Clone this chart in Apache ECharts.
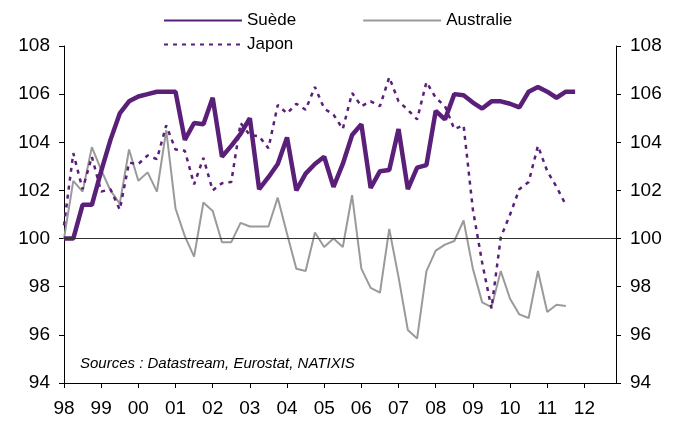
<!DOCTYPE html>
<html>
<head>
<meta charset="utf-8">
<script src="https://cdn.jsdelivr.net/npm/echarts@6/dist/echarts.min.js"></script>
<style>
html,body{margin:0;padding:0;background:#fff;}
#chart{width:682px;height:424px;}
</style>
</head>
<body>
<div id="chart"></div>
<script>
// trimestriel, 1er point = 1998 T1
var debut = 1998;
var suede = [100.0, 100.0, 101.4, 101.4, 102.8, 104.1, 105.2, 105.7, 105.9, 106.0,
	106.1, 106.1, 106.1, 104.1, 104.8, 104.75, 105.85, 103.4, 103.85, 104.35,
	105.0, 102.05, 102.55, 103.1, 104.2, 102.0, 102.7, 103.1, 103.4, 102.15,
	103.1, 104.3, 104.75, 102.1, 102.8, 102.85, 104.55, 102.05, 102.95, 103.05,
	105.3, 104.95, 106.0, 105.95, 105.65, 105.4, 105.7, 105.7, 105.6, 105.45,
	106.1, 106.3, 106.1, 105.85, 106.1, 106.1];
var australie = [100.0, 102.4, 101.95, 103.8, 102.85, 102.0, 101.45, 103.7, 102.4, 102.75,
	101.95, 104.5, 101.25, 100.1, 99.25, 101.5, 101.15, 99.85, 99.85, 100.65,
	100.5, 100.5, 100.5, 101.7, 100.2, 98.75, 98.65, 100.25, 99.65, 100.0,
	99.65, 101.8, 98.75, 97.95, 97.75, 100.4, 98.4, 96.2, 95.85, 98.65,
	99.5, 99.75, 99.9, 100.75, 98.75, 97.35, 97.15, 98.65, 97.5, 96.85,
	96.7, 98.65, 96.95, 97.25, 97.2];
var japon = [100.55, 103.55, 102.05, 103.4, 101.95, 102.05, 101.2, 103.15, 103.1, 103.45,
	103.3, 104.7, 103.7, 103.65, 102.25, 103.35, 102.0, 102.3, 102.35, 104.8,
	104.3, 104.25, 103.75, 105.55, 105.2, 105.6, 105.35, 106.3, 105.4, 105.15,
	104.55, 106.05, 105.5, 105.7, 105.5, 106.7, 105.7, 105.35, 104.95, 106.5,
	105.85, 105.5, 104.55, 104.7, 101.2, 99.0, 97.1, 100.05, 101.0, 102.05,
	102.35, 103.85, 102.8, 102.15, 101.4];

var violet = '#5a1f78';
var police = '"Liberation Sans", Arial, sans-serif';

function serie(vals)
{
	var out = [];
	for (var i = 0; i < vals.length; i++) {
		out.push([debut + i / 4, vals[i]]);
	}
	return out;
}

var yAxe = function (pos) {
	return {
		type: 'value',
		position: pos,
		min: 94,
		max: 108,
		interval: 2,
		splitLine: {show: false},
		axisLine: {show: true, lineStyle: {color: '#000', width: 1}},
		axisTick: {show: true, length: 5, lineStyle: {color: '#000'}},
		axisLabel: {color: '#000', fontSize: 19, fontFamily: police, margin: 14}
	};
};

var legendeTexte = {fontSize: 17, color: '#000', fontFamily: police};

var chart = echarts.init(document.getElementById('chart'));
var option = {
	animation: false,
	backgroundColor: '#fff',
	grid: {left: 64, right: 66, top: 46, bottom: 41},
	legend: [
		{
			data: ['Suède', 'Australie'],
			left: 158, top: 7,
			itemWidth: 78, itemHeight: 12, itemGap: 66,
			itemStyle: {opacity: 0},
			textStyle: legendeTexte
		},
		{
			data: ['Japon'],
			left: 158, top: 31,
			itemWidth: 78, itemHeight: 12,
			itemStyle: {opacity: 0},
			textStyle: legendeTexte
		}
	],
	xAxis: {
		type: 'value',
		min: 1998,
		max: 2012.85,
		interval: 1,
		splitLine: {show: false},
		axisLine: {lineStyle: {color: '#000', width: 1}},
		axisTick: {show: true, length: 5, lineStyle: {color: '#000'}},
		axisLabel: {
			color: '#000', fontSize: 19, fontFamily: police, margin: 16,
			showMaxLabel: false,
			formatter: function (v) {
				if (v % 1 !== 0) return '';
				return String(v).slice(2);
			}
		}
	},
	yAxis: [yAxe('left'), yAxe('right')],
	graphic: [{
		type: 'text',
		left: 80, top: 356,
		style: {
			text: 'Sources : Datastream, Eurostat, NATIXIS',
			font: 'italic 15px ' + police,
			fill: '#000'
		}
	}],
	series: [
		{
			name: 'Australie',
			type: 'line',
			data: serie(australie),
			symbol: 'none',
			lineStyle: {color: '#9a9a9a', width: 2},
			itemStyle: {color: '#9a9a9a'},
			markLine: {
				silent: true,
				symbol: 'none',
				label: {show: false},
				lineStyle: {color: '#333', width: 1.2, type: 'solid'},
				data: [{yAxis: 100}]
			}
		},
		{
			name: 'Japon',
			type: 'line',
			data: serie(japon),
			symbol: 'none',
			lineStyle: {color: violet, width: 2.5, type: [4, 5]},
			itemStyle: {color: violet}
		},
		{
			name: 'Suède',
			type: 'line',
			data: serie(suede),
			symbol: 'none',
			lineStyle: {color: violet, width: 4.5},
			itemStyle: {color: violet}
		}
	]
};
chart.setOption(option);
</script>
</body>
</html>
